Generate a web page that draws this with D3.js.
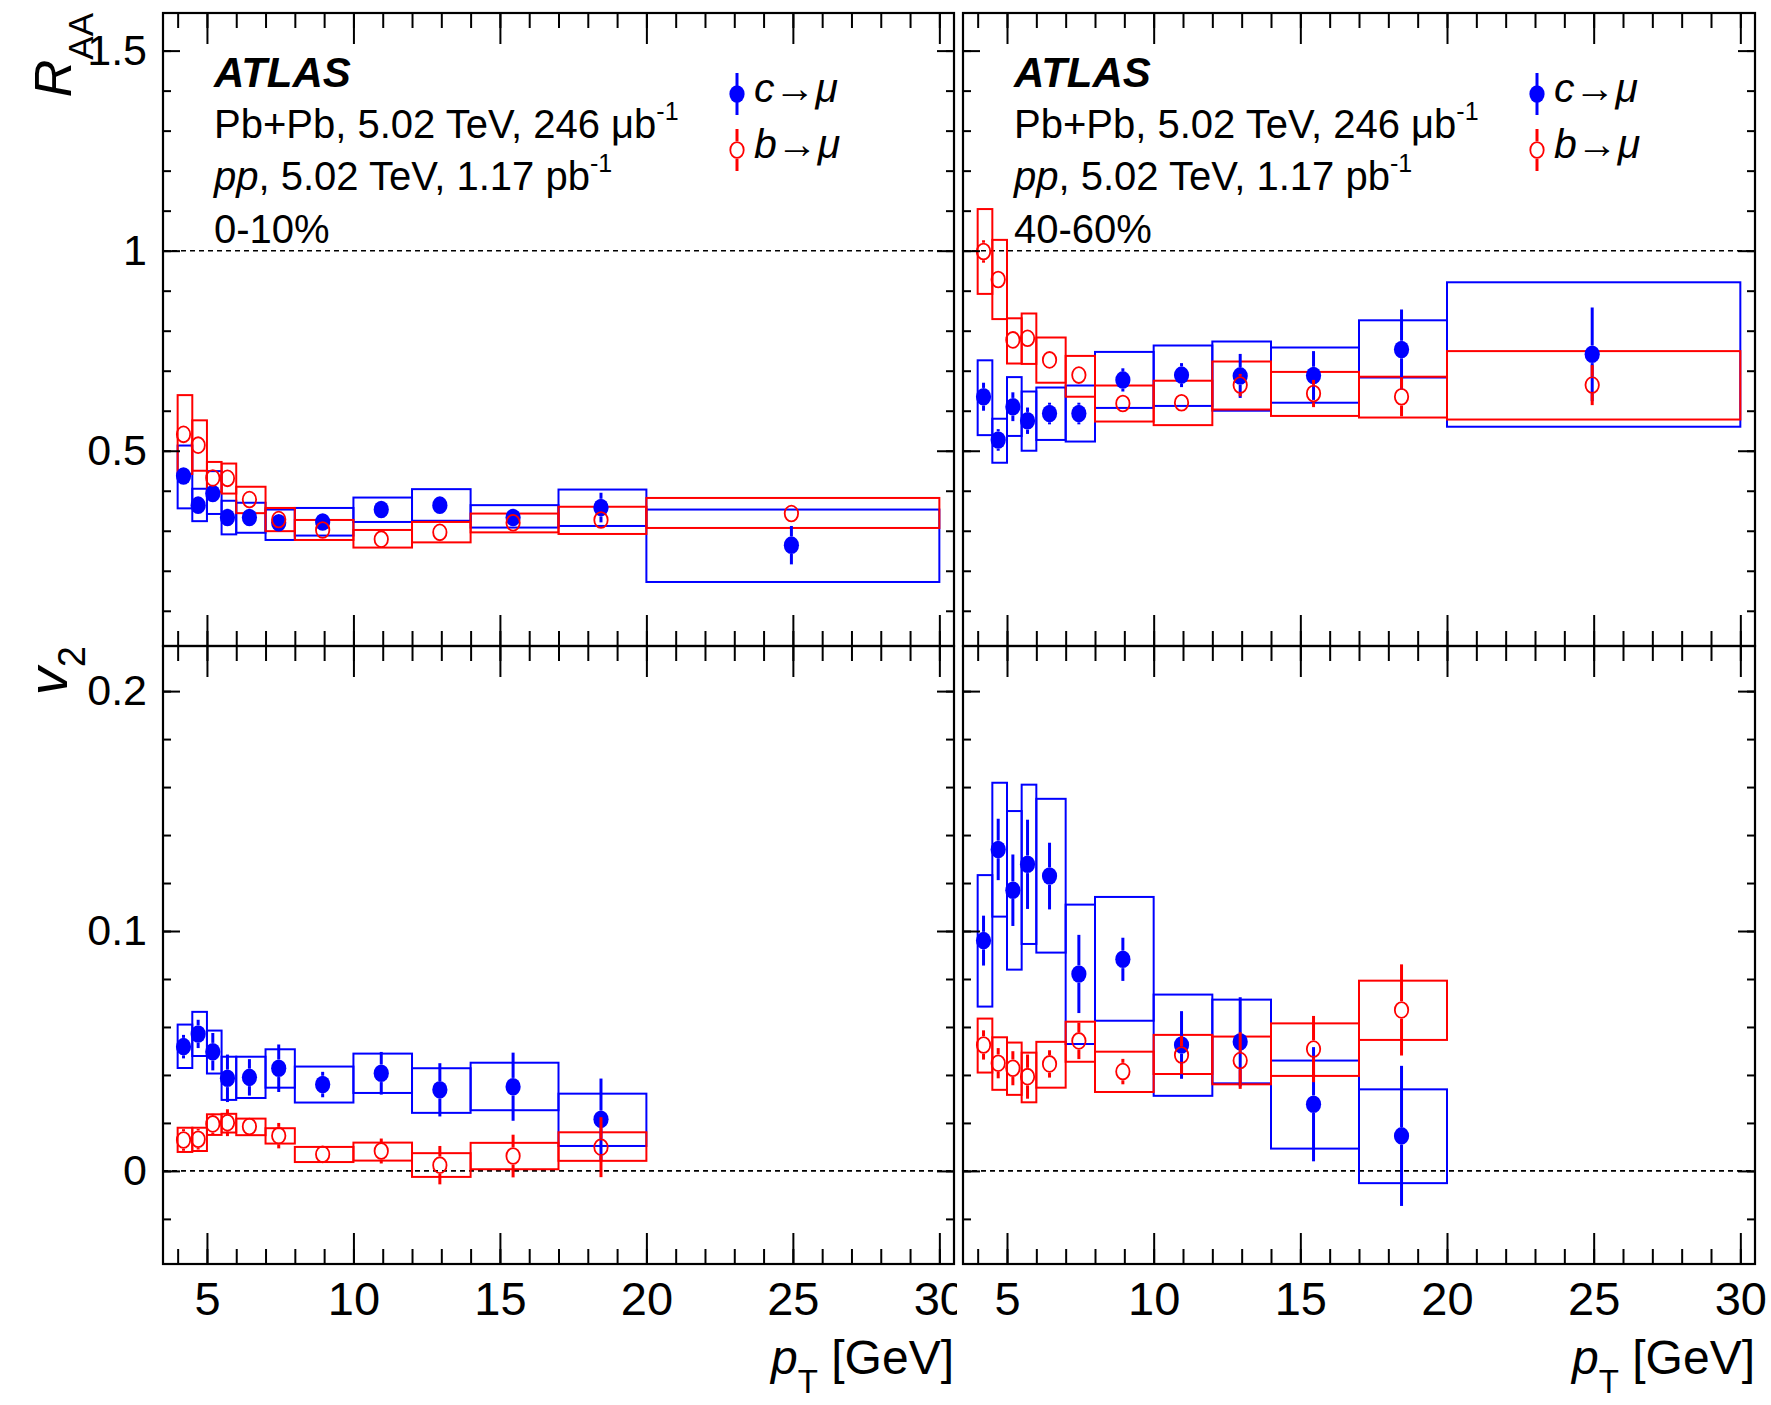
<!DOCTYPE html>
<html>
<head>
<meta charset="utf-8">
<script src="https://cdn.jsdelivr.net/npm/d3@7"></script>
<style>
  body { margin: 0; background: #fff; }
  text { font-family: "Liberation Sans", Arial, Helvetica, sans-serif; fill: #000; }
</style>
</head>
<body>
<div id="main"></div>
<script>
// bins and mean pT of each bin
const ptEdges = [4, 4.5, 5, 5.5, 6, 7, 8, 10, 12, 14, 17, 20, 30];
const ptMean = [4.2, 4.7, 5.2, 5.7, 6.45, 7.45, 8.95, 10.95, 12.95, 15.45, 18.45, 24.95];

const ptTicks = [5, 10, 15, 20, 25, 30];
const raaTicks = [0.5, 1, 1.5];
const v2Ticks = [0, 0.1, 0.2];
const centralities = ["0-10%", "40-60%"];

// R_AA, 0-10%
const raaC010 = [0.437, 0.364, 0.393, 0.333, 0.333, 0.320, 0.322, 0.353, 0.364, 0.333, 0.358, 0.264];
const raaC010Stat = [0.01, 0.01, 0.01, 0.01, 0.008, 0.008, 0.008, 0.01, 0.02, 0.015, 0.037, 0.048];
const raaC010SysLo = [0.356, 0.324, 0.342, 0.291, 0.295, 0.277, 0.288, 0.322, 0.325, 0.308, 0.312, 0.172];
const raaC010SysHi = [0.513, 0.405, 0.449, 0.375, 0.370, 0.353, 0.357, 0.383, 0.404, 0.364, 0.403, 0.353];
const raaB010 = [0.541, 0.514, 0.432, 0.431, 0.378, 0.328, 0.302, 0.279, 0.296, 0.320, 0.327, 0.343];
const raaB010Stat = [0.01, 0.01, 0.01, 0.01, 0.01, 0.008, 0.008, 0.008, 0.008, 0.01, 0.012, 0.012];
const raaB010SysLo = [0.442, 0.450, 0.397, 0.393, 0.344, 0.299, 0.277, 0.258, 0.271, 0.296, 0.292, 0.307];
const raaB010SysHi = [0.639, 0.576, 0.472, 0.468, 0.410, 0.357, 0.327, 0.302, 0.322, 0.343, 0.360, 0.382];

// R_AA, 40-60%
const raaC4060 = [0.635, 0.527, 0.610, 0.575, 0.593, 0.593, 0.677, 0.689, 0.687, 0.688, 0.753, 0.741];
const raaC4060Stat = [0.035, 0.027, 0.036, 0.033, 0.027, 0.027, 0.029, 0.030, 0.055, 0.061, 0.100, 0.117];
const raaC4060SysLo = [0.539, 0.470, 0.537, 0.500, 0.527, 0.523, 0.607, 0.612, 0.600, 0.620, 0.683, 0.560];
const raaC4060SysHi = [0.726, 0.580, 0.684, 0.648, 0.658, 0.663, 0.747, 0.763, 0.773, 0.758, 0.826, 0.921];
const raaB4060 = [0.998, 0.928, 0.777, 0.781, 0.727, 0.689, 0.618, 0.620, 0.664, 0.643, 0.635, 0.664];
const raaB4060Stat = [0.028, 0.01, 0.01, 0.01, 0.01, 0.01, 0.01, 0.01, 0.028, 0.034, 0.049, 0.050];
const raaB4060SysLo = [0.892, 0.829, 0.718, 0.717, 0.670, 0.635, 0.573, 0.564, 0.603, 0.587, 0.583, 0.578];
const raaB4060SysHi = [1.104, 1.027, 0.831, 0.843, 0.783, 0.737, 0.663, 0.675, 0.723, 0.697, 0.685, 0.749];

// v2, 0-10%
const v2C010 = [0.0518, 0.0571, 0.0497, 0.0386, 0.0390, 0.0428, 0.0360, 0.0407, 0.0338, 0.0351, 0.0215];
const v2C010Stat = [0.0049, 0.0059, 0.0078, 0.0099, 0.0076, 0.0099, 0.0053, 0.0089, 0.0111, 0.0142, 0.0170];
const v2C010SysLo = [0.0429, 0.0479, 0.0406, 0.0296, 0.0304, 0.0347, 0.0285, 0.0325, 0.0242, 0.0253, 0.0104];
const v2C010SysHi = [0.0610, 0.0663, 0.0585, 0.0476, 0.0476, 0.0507, 0.0435, 0.0489, 0.0428, 0.0451, 0.0322];
const v2B010 = [0.0129, 0.0132, 0.0196, 0.0201, 0.0185, 0.0147, 0.0069, 0.0083, 0.0024, 0.0062, 0.0099];
const v2B010Stat = [0.0045, 0.0043, 0.0042, 0.0056, 0.0030, 0.0053, 0.0034, 0.0052, 0.0080, 0.0089, 0.0125];
const v2B010SysLo = [0.0079, 0.0083, 0.0150, 0.0160, 0.0149, 0.0114, 0.0037, 0.0043, -0.0025, 0.0007, 0.0042];
const v2B010SysHi = [0.0180, 0.0180, 0.0236, 0.0238, 0.0218, 0.0178, 0.0100, 0.0118, 0.0074, 0.0117, 0.0161];

// v2, 40-60%
const v2C4060 = [0.0960, 0.1340, 0.1170, 0.1278, 0.1229, 0.0821, 0.0882, 0.0525, 0.0538, 0.0278, 0.0146];
const v2C4060Stat = [0.0104, 0.0128, 0.0149, 0.0186, 0.0139, 0.0163, 0.0090, 0.0141, 0.0186, 0.0238, 0.0292];
const v2C4060SysLo = [0.0685, 0.1060, 0.0839, 0.0946, 0.0910, 0.0529, 0.0626, 0.0313, 0.0365, 0.0093, -0.0051];
const v2C4060SysHi = [0.1233, 0.1618, 0.1500, 0.1610, 0.1551, 0.1110, 0.1142, 0.0735, 0.0714, 0.0460, 0.0340];
const v2B4060 = [0.0525, 0.0449, 0.0428, 0.0393, 0.0446, 0.0542, 0.0414, 0.0483, 0.0460, 0.0508, 0.0671];
const v2B4060Stat = [0.0061, 0.0063, 0.0071, 0.0092, 0.0057, 0.0076, 0.0053, 0.0080, 0.0118, 0.0138, 0.0190];
const v2B4060SysLo = [0.0410, 0.0338, 0.0317, 0.0286, 0.0347, 0.0455, 0.0329, 0.0404, 0.0361, 0.0396, 0.0546];
const v2B4060SysHi = [0.0635, 0.0557, 0.0535, 0.0493, 0.0538, 0.0622, 0.0497, 0.0567, 0.0560, 0.0615, 0.0793];

const BLUE = "#0000ff";
const RED = "#ff0000";

function series(vals, stat, lo, hi) {
  return vals.map((v, i) => ({
    x: ptMean[i], e0: ptEdges[i], e1: ptEdges[i + 1],
    v: v, s: stat[i], lo: lo[i], hi: hi[i]
  }));
}

const panels = [
  [ // 0-10%
    { c: series(raaC010, raaC010Stat, raaC010SysLo, raaC010SysHi),
      b: series(raaB010, raaB010Stat, raaB010SysLo, raaB010SysHi) },
    { c: series(v2C010, v2C010Stat, v2C010SysLo, v2C010SysHi),
      b: series(v2B010, v2B010Stat, v2B010SysLo, v2B010SysHi) }
  ],
  [ // 40-60%
    { c: series(raaC4060, raaC4060Stat, raaC4060SysLo, raaC4060SysHi),
      b: series(raaB4060, raaB4060Stat, raaB4060SysLo, raaB4060SysHi) },
    { c: series(v2C4060, v2C4060Stat, v2C4060SysLo, v2C4060SysHi),
      b: series(v2B4060, v2B4060Stat, v2B4060SysLo, v2B4060SysHi) }
  ]
];

const W = 1771, H = 1405;
const cols = [{ x0: 163, x1: 954 }, { x0: 963, x1: 1755 }];
const rows = [
  { y0: 13, y1: 646, domain: [0.012, 1.594], major: raaTicks, minor: d3.range(0.1, 1.59, 0.1), ref: 1 },
  { y0: 646, y1: 1264, domain: [-0.0388, 0.2188], major: v2Ticks, minor: d3.range(-0.02, 0.215, 0.02), ref: 0 }
];
const RX = 7.6, RY = 8.8;

const svg = d3.select("#main").append("svg")
  .attr("width", W)
  .attr("height", H);

svg.append("rect").attr("width", W).attr("height", H).attr("fill", "#fff");

function drawBoxes(g, x, y, pts, color) {
  g.append("g").selectAll("rect")
    .data(pts)
    .join("rect")
    .attr("x", d => x(d.e0))
    .attr("width", d => x(d.e1) - x(d.e0))
    .attr("y", d => y(d.hi))
    .attr("height", d => y(d.lo) - y(d.hi))
    .attr("fill", "none")
    .attr("stroke", color)
    .attr("stroke-width", 2);
}

function drawPoints(g, x, y, pts, color, filled) {
  const gg = g.append("g");
  // stat bars, not drawn inside the marker
  gg.selectAll("line.up")
    .data(pts.filter(d => y(d.v) - y(d.v + d.s) > RY))
    .join("line")
    .attr("class", "up")
    .attr("x1", d => x(d.x)).attr("x2", d => x(d.x))
    .attr("y1", d => y(d.v) - RY).attr("y2", d => y(d.v + d.s))
    .attr("stroke", color).attr("stroke-width", 3);
  gg.selectAll("line.dn")
    .data(pts.filter(d => y(d.v - d.s) - y(d.v) > RY))
    .join("line")
    .attr("class", "dn")
    .attr("x1", d => x(d.x)).attr("x2", d => x(d.x))
    .attr("y1", d => y(d.v) + RY).attr("y2", d => y(d.v - d.s))
    .attr("stroke", color).attr("stroke-width", 3);
  gg.selectAll("ellipse")
    .data(pts)
    .join("ellipse")
    .attr("cx", d => x(d.x))
    .attr("cy", d => y(d.v))
    .attr("rx", filled ? RX : RX - 0.9)
    .attr("ry", filled ? RY : RY - 0.9)
    .attr("fill", filled ? color : "none")
    .attr("stroke", filled ? "none" : color)
    .attr("stroke-width", 1.8);
}

function drawAxes(g, x, y, row, ci, ri) {
  const clean = sel => {
    sel.select(".domain").remove();
    sel.attr("font-family", null).attr("font-size", null);
    sel.selectAll("line").attr("stroke", "#000").attr("stroke-width", 2);
  };
  // x axis, bottom
  const xb = g.append("g").attr("transform", `translate(0,${row.y1})`)
    .call(d3.axisBottom(x).tickValues(ptTicks).tickSize(-31).tickPadding(18)
      .tickFormat(ri === 1 ? d => String(d) : ""));
  clean(xb);
  xb.selectAll("text").attr("font-size", 47);
  g.append("g").attr("transform", `translate(0,${row.y1})`)
    .call(d3.axisBottom(x).tickValues(d3.range(4, 31)).tickSize(-15).tickFormat(""))
    .call(clean);
  // x axis, top
  g.append("g").attr("transform", `translate(0,${row.y0})`)
    .call(d3.axisTop(x).tickValues(ptTicks).tickSize(-31).tickFormat(""))
    .call(clean);
  g.append("g").attr("transform", `translate(0,${row.y0})`)
    .call(d3.axisTop(x).tickValues(d3.range(4, 31)).tickSize(-15).tickFormat(""))
    .call(clean);
  // y axis, left
  const yl = g.append("g").attr("transform", `translate(${x.range()[0]},0)`)
    .call(d3.axisLeft(y).tickValues(row.major).tickSize(-17).tickPadding(16)
      .tickFormat(ci === 0 ? d => String(d) : ""));
  clean(yl);
  yl.selectAll("text").attr("font-size", 43);
  g.append("g").attr("transform", `translate(${x.range()[0]},0)`)
    .call(d3.axisLeft(y).tickValues(row.minor).tickSize(-8).tickFormat(""))
    .call(clean);
  // y axis, right
  g.append("g").attr("transform", `translate(${x.range()[1]},0)`)
    .call(d3.axisRight(y).tickValues(row.major).tickSize(-17).tickFormat(""))
    .call(clean);
  g.append("g").attr("transform", `translate(${x.range()[1]},0)`)
    .call(d3.axisRight(y).tickValues(row.minor).tickSize(-8).tickFormat(""))
    .call(clean);
  // frame
  g.append("rect")
    .attr("x", x.range()[0]).attr("y", row.y0)
    .attr("width", x.range()[1] - x.range()[0])
    .attr("height", row.y1 - row.y0)
    .attr("fill", "none").attr("stroke", "#000").attr("stroke-width", 2.2);
}

function drawInfo(g, ci) {
  const x0 = cols[ci].x0;
  const tx = x0 + 51;
  g.append("text").attr("x", tx).attr("y", 87)
    .attr("font-size", 42).attr("font-weight", "bold").attr("font-style", "italic")
    .text("ATLAS");
  const t1 = g.append("text").attr("x", tx).attr("y", 138).attr("font-size", 40);
  t1.append("tspan").text("Pb+Pb, 5.02 TeV, 246 μb");
  t1.append("tspan").attr("dy", -18).attr("font-size", 25).text("-1");
  const t2 = g.append("text").attr("x", tx).attr("y", 190).attr("font-size", 40);
  t2.append("tspan").attr("font-style", "italic").text("pp");
  t2.append("tspan").text(", 5.02 TeV, 1.17 pb");
  t2.append("tspan").attr("dy", -18).attr("font-size", 25).text("-1");
  g.append("text").attr("x", tx).attr("y", 243).attr("font-size", 40).text(centralities[ci]);

  // legend
  const lx = x0 + 574;
  const items = [
    { q: "c", y: 94, color: BLUE, filled: true },
    { q: "b", y: 150, color: RED, filled: false }
  ];
  items.forEach(it => {
    if (it.filled) {
      g.append("line").attr("x1", lx).attr("x2", lx).attr("y1", it.y - 21).attr("y2", it.y + 21)
        .attr("stroke", it.color).attr("stroke-width", 3);
    } else {
      g.append("line").attr("x1", lx).attr("x2", lx).attr("y1", it.y - 21).attr("y2", it.y - RY)
        .attr("stroke", it.color).attr("stroke-width", 3);
      g.append("line").attr("x1", lx).attr("x2", lx).attr("y1", it.y + RY).attr("y2", it.y + 21)
        .attr("stroke", it.color).attr("stroke-width", 3);
    }
    g.append("ellipse").attr("cx", lx).attr("cy", it.y)
      .attr("rx", it.filled ? RX : RX - 0.9).attr("ry", it.filled ? RY : RY - 0.9)
      .attr("fill", it.filled ? it.color : "none")
      .attr("stroke", it.filled ? "none" : it.color).attr("stroke-width", 1.8);
    const t = g.append("text").attr("x", lx + 17).attr("y", it.y + 8).attr("font-size", 41);
    t.append("tspan").attr("font-style", "italic").text(it.q);
    t.append("tspan").text("→");
    t.append("tspan").attr("font-style", "italic").text("μ");
  });

  // x title
  const xt = g.append("text").attr("x", cols[ci].x1).attr("y", 1374)
    .attr("text-anchor", "end").attr("font-size", 48);
  xt.append("tspan").attr("font-style", "italic").text("p");
  xt.append("tspan").attr("dy", 19).attr("font-size", 33).text("T");
  xt.append("tspan").attr("dy", -19).text(" [GeV]");
}

cols.forEach((col, ci) => {
  const g = svg.append("g");
  if (ci === 1) {
    // right pad covers whatever spills over from the left one
    g.append("rect").attr("x", 957).attr("y", 0).attr("width", W - 957).attr("height", H).attr("fill", "#fff");
  }
  const x = d3.scaleLinear().domain([3.5, 30.5]).range([col.x0, col.x1]);
  rows.forEach((row, ri) => {
    const y = d3.scaleLinear().domain(row.domain).range([row.y1, row.y0]);
    const data = panels[ci][ri];
    g.append("line")
      .attr("x1", col.x0).attr("x2", col.x1)
      .attr("y1", y(row.ref)).attr("y2", y(row.ref))
      .attr("stroke", "#000").attr("stroke-width", 1.6).attr("stroke-dasharray", "5,4");
    drawBoxes(g, x, y, data.c, BLUE);
    drawBoxes(g, x, y, data.b, RED);
    drawPoints(g, x, y, data.c, BLUE, true);
    drawPoints(g, x, y, data.b, RED, false);
    drawAxes(g, x, y, row, ci, ri);
  });
  drawInfo(g, ci);
});

// y titles
const rt = svg.append("text").attr("transform", "translate(71,13) rotate(-90)")
  .attr("text-anchor", "end").attr("font-size", 52);
rt.append("tspan").attr("font-style", "italic").text("R");
rt.append("tspan").attr("dy", 22).attr("font-size", 35).text("AA");

const vt = svg.append("text").attr("transform", "translate(67,646) rotate(-90)")
  .attr("text-anchor", "end").attr("font-size", 56);
vt.append("tspan").attr("font-style", "italic").text("v");
vt.append("tspan").attr("dy", 18).attr("font-size", 38).text("2");
</script>
</body>
</html>
